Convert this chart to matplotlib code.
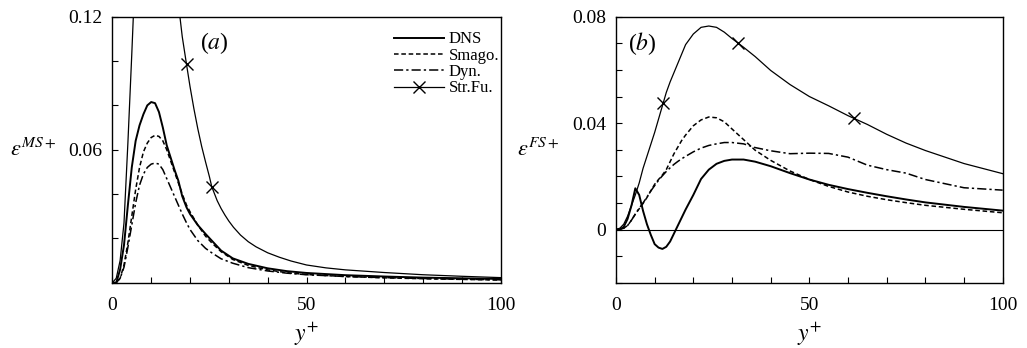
import numpy as np
import matplotlib.pyplot as plt
from matplotlib.ticker import MultipleLocator

plt.rcParams['font.family'] = ['Liberation Serif', 'DejaVu Serif']
plt.rcParams['mathtext.fontset'] = 'stix'

# panel (a): eps^MS+
xa = [0, 1, 2, 3, 4, 5, 6, 7, 8, 9, 10, 11, 12, 13, 14, 16, 17, 18, 19.1, 20, 22, 24, 25.6,
      28, 31, 35, 40, 45, 50, 60, 70, 80, 90, 100]
dns_a = [0, 0, 0.006, 0.017, 0.035, 0.052, 0.064, 0.071, 0.076, 0.080, 0.0815, 0.081, 0.077, 0.070,
         0.062, 0.051, 0.046, 0.039, 0.034, 0.031, 0.026, 0.022, 0.019, 0.0145, 0.011, 0.0085,
         0.0065, 0.0052, 0.0044, 0.0034, 0.0028, 0.0023, 0.002, 0.0017]
smago_a = [0, 0, 0.002, 0.008, 0.018, 0.030, 0.042, 0.052, 0.059, 0.063, 0.0655, 0.0665, 0.066,
           0.064, 0.060, 0.050, 0.045, 0.040, 0.035, 0.032, 0.026, 0.021, 0.018, 0.014, 0.0105,
           0.0078, 0.0058, 0.0045, 0.0037, 0.0028, 0.0022, 0.0018, 0.0015, 0.0012]
dyn_a = [0, 0, 0.002, 0.007, 0.016, 0.026, 0.036, 0.044, 0.049, 0.052, 0.0535, 0.054, 0.0535,
         0.051, 0.047, 0.039, 0.035, 0.031, 0.027, 0.024, 0.019, 0.0155, 0.0135, 0.0108, 0.0088,
         0.0068, 0.0053, 0.0043, 0.0036, 0.0028, 0.0023, 0.0019, 0.0016, 0.0013]
# structure-function model goes far off scale near the wall
xa_sf = [0, 1, 2, 3, 4, 5, 5.4, 6, 7, 8, 10, 12, 14, 16, 17.4, 18, 19.1, 20, 21, 22, 23, 24, 25,
         25.6, 27, 28, 29, 30, 31.2, 33, 35, 37, 40, 43, 46, 50, 55, 60, 70, 80, 90, 100]
strfu_a = [0, 0.002, 0.01, 0.027, 0.063, 0.103, 0.12, 0.145, 0.18, 0.20, 0.225, 0.22, 0.19, 0.15,
           0.12, 0.111, 0.0985, 0.0885, 0.0785, 0.0695, 0.0615, 0.0545, 0.0478, 0.0433, 0.037,
           0.0335, 0.0305, 0.0278, 0.025, 0.0215, 0.0185, 0.0162, 0.0135, 0.0115, 0.0098, 0.0080,
           0.0067, 0.0058, 0.0046, 0.0036, 0.0029, 0.0023]
marks_a = [19.1, 25.6]

# panel (b): eps^FS+
xb = [0, 1, 2, 3, 4, 5, 6, 7, 8, 9, 10, 11, 12, 13, 14, 15, 16, 17, 18, 20, 22, 24, 26, 28, 30,
      33, 36, 40, 45, 50, 55, 60, 65, 70, 75, 80, 90, 100]
dns_b = [0, 0, 0.001, 0.004, 0.009, 0.0155, 0.013, 0.007, 0.002, -0.002, -0.0055, -0.0068,
         -0.0073, -0.0065, -0.0045, -0.0015, 0.0015, 0.0045, 0.0075, 0.013, 0.019, 0.0225,
         0.0247, 0.0258, 0.0263, 0.0263, 0.0255, 0.0238, 0.0212, 0.0188, 0.0168, 0.0152,
         0.0138, 0.0125, 0.0113, 0.0102, 0.0085, 0.0071]
smago_b = [0, 0, 0.0005, 0.0015, 0.0035, 0.0058, 0.0078, 0.0098, 0.012, 0.0145, 0.017, 0.0188,
           0.0205, 0.0225, 0.0255, 0.0285, 0.031, 0.0335, 0.0355, 0.039, 0.0412, 0.0423, 0.042,
           0.0405, 0.0378, 0.0338, 0.0298, 0.026, 0.022, 0.0188, 0.0162, 0.0141, 0.0125, 0.0112,
           0.0101, 0.0091, 0.0076, 0.0063]
dyn_b = [0, 0, 0.0005, 0.0015, 0.0035, 0.0058, 0.008, 0.010, 0.0122, 0.0145, 0.0165, 0.0185,
         0.0202, 0.0218, 0.0232, 0.0245, 0.0256, 0.0266, 0.0275, 0.0292, 0.0306, 0.0316, 0.0322,
         0.0327, 0.0327, 0.0322, 0.0308, 0.0296, 0.0285, 0.0287, 0.0286, 0.0272, 0.0242, 0.0225,
         0.0212, 0.0188, 0.0157, 0.0148]
strfu_b = [0, 0.0005, 0.002, 0.005, 0.009, 0.013, 0.0175, 0.023, 0.0275, 0.032, 0.0365, 0.0415,
           0.0465, 0.0515, 0.0555, 0.059, 0.0625, 0.066, 0.0695, 0.0735, 0.076, 0.0765, 0.076,
           0.0742, 0.0718, 0.0685, 0.065, 0.0598, 0.0545, 0.050, 0.0465, 0.0428, 0.0395, 0.0358,
           0.0325, 0.0297, 0.0248, 0.021]
marks_b = [12.2, 31.6, 61.6]

smago_ls = (0, (3, 1.8))
dyn_ls = (0, (6, 2, 1.5, 2))

fig = plt.figure(figsize=(10.27, 3.48), dpi=100)
ax1 = fig.add_axes([0.1094, 0.1876, 0.3781, 0.7644])
ax2 = fig.add_axes([0.5998, 0.1876, 0.3765, 0.7644])


def style(ax, ymin, ymax, ymajor, yminor, ylab):
    ax.set_xlim(0, 100)
    ax.set_ylim(ymin, ymax)
    ax.xaxis.set_major_locator(MultipleLocator(50))
    ax.xaxis.set_minor_locator(MultipleLocator(10))
    ax.yaxis.set_major_locator(MultipleLocator(ymajor))
    ax.yaxis.set_minor_locator(MultipleLocator(yminor))
    ax.tick_params(which='both', direction='in', length=4, width=0.8, labelsize=14, pad=7)
    ax.tick_params(axis='x', pad=10)
    for s in ax.spines.values():
        s.set_linewidth(1.0)
    ax.set_xlabel(r'$y^{+}$', fontsize=17, labelpad=5)
    ax.set_ylabel(ylab, fontsize=16, rotation=0, ha='right', va='center')
    ax.yaxis.set_label_coords(-0.145, 0.5)


# (a)
ax1.plot(xa, dns_a, color='k', lw=1.4, label='DNS')
ax1.plot(xa, smago_a, color='k', lw=1.1, ls=smago_ls, label='Smago.')
ax1.plot(xa, dyn_a, color='k', lw=1.1, ls=dyn_ls, label='Dyn.')
l_sf, = ax1.plot(xa_sf, strfu_a, color='k', lw=0.9)
l_sfm, = ax1.plot(marks_a, np.interp(marks_a, xa_sf, strfu_a), 'x', color='k', ms=9, mew=1.0)
style(ax1, 0, 0.12, 0.06, 0.02, r'$\varepsilon^{MS+}$')
ax1.set_yticks([0, 0.06, 0.12])
ax1.set_yticklabels(['', '0.06', '0.12'])
ax1.text(0.225, 0.9, r'($a$)', transform=ax1.transAxes, fontsize=17, ha='left', va='center')
h, lab = ax1.get_legend_handles_labels()
ax1.legend(h + [(l_sf, l_sfm)], lab + ['Str.Fu.'], loc='upper right', bbox_to_anchor=(0.996, 0.945),
           frameon=False, fontsize=12, handlelength=3.0, handletextpad=0.25, labelspacing=0.02,
           borderaxespad=0, borderpad=0)

# (b)
ax2.axhline(0, color='k', lw=0.8)
ax2.plot(xb, dns_b, color='k', lw=1.4)
ax2.plot(xb, smago_b, color='k', lw=1.1, ls=smago_ls)
ax2.plot(xb, dyn_b, color='k', lw=1.1, ls=dyn_ls)
ax2.plot(xb, strfu_b, color='k', lw=0.9)
ax2.plot(marks_b, np.interp(marks_b, xb, strfu_b), 'x', color='k', ms=9, mew=1.0)
style(ax2, -0.02, 0.08, 0.04, 0.01, r'$\varepsilon^{FS+}$')
ax2.set_yticks([0, 0.04, 0.08])
ax2.set_yticklabels(['0', '0.04', '0.08'])
ax2.text(0.03, 0.9, r'($b$)', transform=ax2.transAxes, fontsize=17, ha='left', va='center')

fig.savefig('out.png', dpi=100)
